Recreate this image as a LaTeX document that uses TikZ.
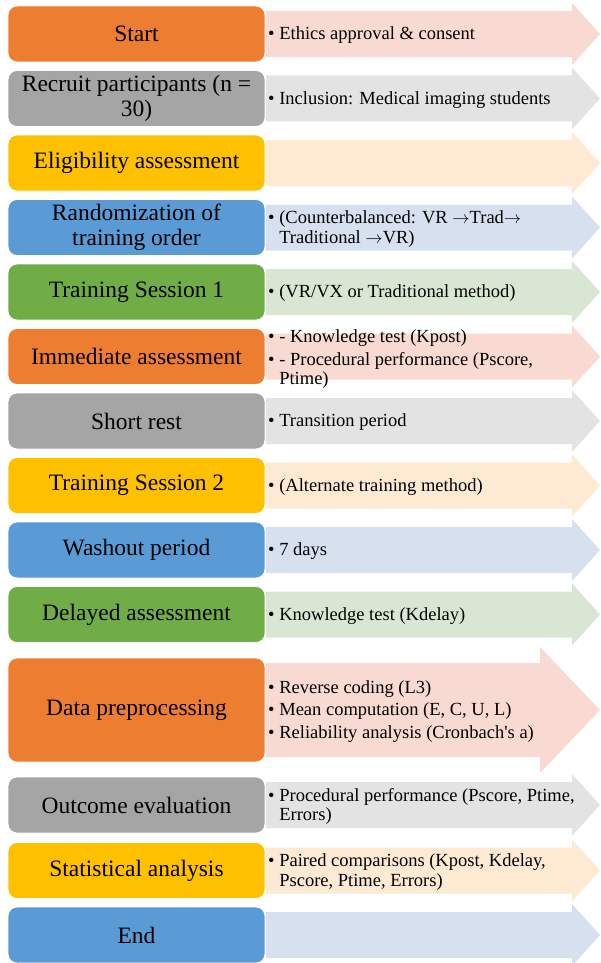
\documentclass[tikz,border=0pt]{standalone}
\usepackage{fontspec}
\setmainfont{Liberation Serif}
\usepackage{tikz}
\usetikzlibrary{positioning}
\usetikzlibrary{calc}
\definecolor{corange}{HTML}{ED7D31}
\definecolor{cgray}{HTML}{A5A5A5}
\definecolor{cgold}{HTML}{FFC000}
\definecolor{cblue}{HTML}{5B9BD5}
\definecolor{cgreen}{HTML}{70AD47}
\definecolor{lorange}{HTML}{F8DAD2}
\definecolor{lgray}{HTML}{E3E3E3}
\definecolor{lgold}{HTML}{FEE9D3}
\definecolor{lblue}{HTML}{D6E0EF}
\definecolor{lgreen}{HTML}{DAE6D4}
\tikzstyle{stage}=[
        rectangle,
        rounded corners=9pt,
        draw=white,
        line width=0.8pt,
        minimum width=257pt,
        minimum height=56pt,
        inner sep=2pt,
        align=center,
        text=black,
        font=\fontsize{23.5}{24.5}\selectfont
]
\tikzstyle{detail}=[anchor=west,inner sep=0pt,yshift=-2pt,text=black,font=\fontsize{18.5}{19.5}\selectfont]
% arrow band: y centre, shaft half height, head half height, colour
\newcommand{\flowarrow}[4]{%
\fill[#4] (266,#1-#2) -- (603-#3,#1-#2) -- (603-#3,#1-#3) -- (600,#1)
 -- (603-#3,#1+#3) -- (603-#3,#1+#2) -- (266,#1+#2) -- cycle;}
\newcommand{\items}[1]{\begin{tabular}{@{}l@{\ }l@{}}#1\end{tabular}}

\begin{document}
\begin{tikzpicture}[x=1pt,y=-1pt]
\useasboundingbox (0,0) rectangle (600,963);
\flowarrow{34}{23}{31}{lorange}
\flowarrow{98.5}{23}{31}{lgray}
\flowarrow{163}{23}{31}{lgold}
\flowarrow{227.5}{23}{31}{lblue}
\flowarrow{292}{23}{31}{lgreen}
\flowarrow{356.5}{23}{31}{lorange}
\flowarrow{421}{23}{31}{lgray}
\flowarrow{485.5}{23}{31}{lgold}
\flowarrow{550}{23}{31}{lblue}
\flowarrow{614.5}{23}{31}{lgreen}
\flowarrow{710}{47}{63}{lorange}
\flowarrow{805}{23}{31}{lgray}
\flowarrow{870.5}{23}{31}{lgold}
\flowarrow{935}{23}{31}{lblue}
\node[stage,fill=corange] (start) at (136.5,34) {Start};
\node[stage,fill=cgray] (recruit) at (136.5,98.5) {Recruit participants (n =\\30)};
\node[stage,fill=cgold] (elig) at (136.5,163) {Eligibility assessment};
\node[stage,fill=cblue] (random) at (136.5,227.5) {Randomization of\\training order};
\node[stage,fill=cgreen] (train1) at (136.5,292) {Training Session 1};
\node[stage,fill=corange] (immed) at (136.5,356.5) {Immediate assessment};
\node[stage,fill=cgray] (rest) at (136.5,421) {Short rest};
\node[stage,fill=cgold] (train2) at (136.5,485.5) {Training Session 2};
\node[stage,fill=cblue] (washout) at (136.5,550) {Washout period};
\node[stage,fill=cgreen] (delayed) at (136.5,614.5) {Delayed assessment};
\node[stage,fill=corange,minimum height=104pt] (prep) at (136.5,710) {Data preprocessing};
\node[stage,fill=cgray] (outcome) at (136.5,805) {Outcome evaluation};
\node[stage,fill=cgold] (stats) at (136.5,870.5) {Statistical analysis};
\node[stage,fill=cblue] (end) at (136.5,935) {End};
%details
\node[detail] (dstart) at (268,34) {\items{\textbullet & Ethics approval \& consent}};
\node[detail] (drecruit) at (268,98.5) {\items{\textbullet & Inclusion: Medical imaging students}};
\node[detail] (drandom) at (268,227.5) {\items{\textbullet & (Counterbalanced: VR $\rightarrow$Trad$\rightarrow$\\ & Traditional $\rightarrow$VR)}};
\node[detail] (dtrain1) at (268,292) {\items{\textbullet & (VR/VX or Traditional method)}};
\node[detail] (dimmed) at (268,358) {\items{\textbullet & - Knowledge test (Kpost)\\[3pt] \textbullet & - Procedural performance (Pscore,\\ & Ptime)}};
\node[detail] (drest) at (268,421) {\items{\textbullet & Transition period}};
\node[detail] (dtrain2) at (268,485.5) {\items{\textbullet & (Alternate training method)}};
\node[detail] (dwashout) at (268,550) {\items{\textbullet & 7 days}};
\node[detail] (ddelayed) at (268,614.5) {\items{\textbullet & Knowledge test (Kdelay)}};
\node[detail] (dprep) at (268,710) {\items{\textbullet & Reverse coding (L3)\\[3pt] \textbullet & Mean computation (E, C, U, L)\\[3pt] \textbullet & Reliability analysis (Cronbach\textquotesingle s a)}};
\node[detail] (doutcome) at (268,805) {\items{\textbullet & Procedural performance (Pscore, Ptime,\\ & Errors)}};
\node[detail] (dstats) at (268,870.5) {\items{\textbullet & Paired comparisons (Kpost, Kdelay,\\ & Pscore, Ptime, Errors)}};
\end{tikzpicture}
\end{document}
